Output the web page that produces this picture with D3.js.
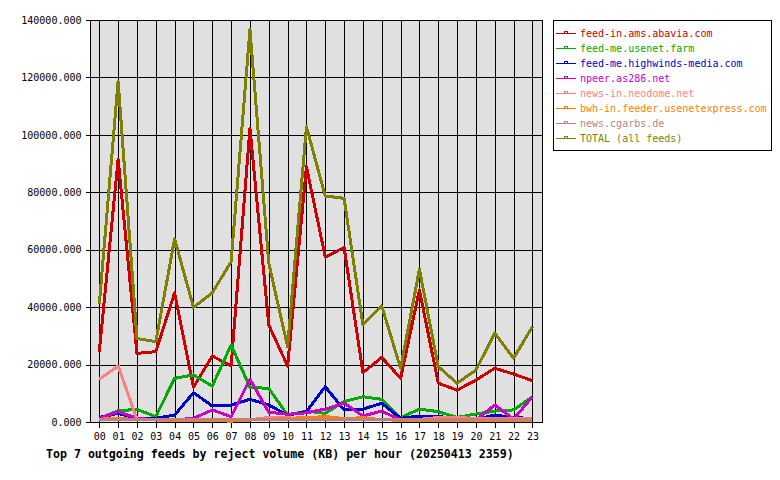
<!DOCTYPE html>
<html>
<head>
<meta charset="utf-8">
<script src="https://cdn.jsdelivr.net/npm/d3@7"></script>
<style>
  body { margin: 0; background: #fff; }
  svg { display: block; }
</style>
</head>
<body>
<div id="chart"></div>
<script>
const hours = ["00","01","02","03","04","05","06","07","08","09","10","11",
               "12","13","14","15","16","17","18","19","20","21","22","23"];

const abavia    = [24500, 91500, 23900, 24500, 45000, 12100, 23000, 19500, 102300, 33800, 19500, 88900,
                   57400, 60800, 17200, 22500, 15200, 46000, 13500, 11100, 14600, 18700, 16700, 14400];
const usenetFarm = [1300, 3900, 4400, 1850, 15200, 16400, 12500, 26800, 12100, 11700, 2400, 3800,
                    3000, 7100, 8800, 7900, 1500, 4500, 3600, 1600, 2800, 3800, 4200, 8800];
const highwinds  = [1600, 3000, 1300, 1300, 2400, 10200, 5600, 5900, 7900, 5900, 2400, 3600,
                    12300, 4200, 4500, 6500, 1300, 2100, 1900, 1300, 1000, 2400, 1600, 1200];
const npeer      = [1300, 3600, 1300, 700, 700, 1300, 4200, 1850, 14900, 3400, 2700, 3200,
                    4500, 6500, 2100, 3800, 700, 700, 1000, 1000, 700, 5900, 1000, 8800];
const neodome    = [14900, 19500, 900, 700, 600, 600, 600, 500, 800, 1600, 1500, 900,
                    800, 700, 700, 700, 700, 900, 1600, 1600, 1200, 1200, 1200, 1200];
const usenetexpress = [1000, 1200, 900, 800, 600, 500, 500, 300, 700, 900, 1300, 1500,
                       1900, 1200, 1500, 800, 600, 600, 600, 600, 600, 600, 600, 600];
const cgarbs     = [900, 900, 900, 900, 900, 900, 900, 900, 900, 900, 900, 900,
                    900, 900, 900, 900, 900, 900, 900, 900, 900, 900, 900, 900];
const total      = [41000, 118700, 29100, 28000, 63800, 39900, 45000, 55800, 136700, 55300, 26200, 102800,
                    78700, 77900, 33800, 40400, 18700, 53200, 19300, 13500, 18100, 30900, 22200, 33200];

const yTicks = [0, 20000, 40000, 60000, 80000, 100000, 120000, 140000];

const series = [
  {name: "feed-in.ams.abavia.com", color: "#cc0000", values: abavia},
  {name: "feed-me.usenet.farm", color: "#00aa00", values: usenetFarm},
  {name: "feed-me.highwinds-media.com", color: "#0000cc", values: highwinds},
  {name: "npeer.as286.net", color: "#cc00cc", values: npeer},
  {name: "news-in.neodome.net", color: "#ff8080", values: neodome},
  {name: "bwh-in.feeder.usenetexpress.com", color: "#ff8000", values: usenetexpress},
  {name: "news.cgarbs.de", color: "#c08080", values: cgarbs},
  {name: "TOTAL (all feeds)", color: "#808000", values: total}
];

const width = 780, height = 480;
const plot = {left: 90, right: 542, top: 20, bottom: 422};
const font = "'DejaVu Sans Mono', monospace";

const svg = d3.select("#chart").append("svg")
  .attr("width", width)
  .attr("height", height)
  .style("font-family", font);

const x = d3.scalePoint().domain(hours).range([99.3, 532.4]);
const y = d3.scaleLinear().domain([0, 140000]).range([plot.bottom, plot.top]);

// plot background
svg.append("rect")
  .attr("x", plot.left).attr("y", plot.top)
  .attr("width", plot.right - plot.left).attr("height", plot.bottom - plot.top)
  .attr("fill", "#e0e0e0");

// grid
const grid = svg.append("g").attr("stroke", "#000").attr("stroke-width", 1).attr("shape-rendering", "crispEdges");
grid.selectAll("line.v").data(hours).join("line")
  .attr("class", "v")
  .attr("x1", d => Math.round(x(d)) + 0.5).attr("x2", d => Math.round(x(d)) + 0.5)
  .attr("y1", plot.top).attr("y2", plot.bottom);
grid.selectAll("line.h").data(yTicks).join("line")
  .attr("class", "h")
  .attr("x1", plot.left).attr("x2", plot.right)
  .attr("y1", d => Math.round(y(d)) + 0.5).attr("y2", d => Math.round(y(d)) + 0.5);

// axes
const yAxis = svg.append("g")
  .attr("transform", `translate(${plot.left + 0.5},0)`)
  .call(d3.axisLeft(y).tickValues(yTicks).tickSize(5).tickSizeOuter(0).tickFormat(d3.format(".3f")));
const xAxis = svg.append("g")
  .attr("transform", `translate(0,${plot.bottom + 0.5})`)
  .call(d3.axisBottom(x).tickSize(5).tickSizeOuter(0));
[yAxis, xAxis].forEach(a => {
  a.select(".domain").remove();
  a.selectAll("line").attr("stroke", "#000").attr("shape-rendering", "crispEdges");
  a.selectAll("text").attr("fill", "#000").style("font-family", font).style("font-size", "10px");
});
yAxis.selectAll("text").attr("x", -9);
xAxis.selectAll("text").attr("y", 10);

// plot border
svg.append("rect")
  .attr("x", plot.left + 0.5).attr("y", plot.top + 0.5)
  .attr("width", plot.right - plot.left).attr("height", plot.bottom - plot.top)
  .attr("fill", "none").attr("stroke", "#000").attr("shape-rendering", "crispEdges");

// lines
const line = d3.line().x((d, i) => x(hours[i])).y(d => y(d));
svg.append("g").selectAll("path")
  .data(series)
  .join("path")
  .attr("d", d => line(d.values))
  .attr("fill", "none")
  .attr("stroke", d => d.color)
  .attr("stroke-width", 3)
  .attr("stroke-linejoin", "round")
  .attr("shape-rendering", "crispEdges");

// legend
const legend = svg.append("g").attr("transform", "translate(553,20)");
legend.append("rect")
  .attr("x", 0.5).attr("y", 0.5).attr("width", 218).attr("height", 130)
  .attr("fill", "#fff").attr("stroke", "#000").attr("shape-rendering", "crispEdges");
const item = legend.selectAll("g.item").data(series).join("g")
  .attr("class", "item")
  .attr("transform", (d, i) => `translate(0,${13 + i * 15})`);
item.append("line")
  .attr("x1", 3).attr("x2", 23).attr("y1", 0.5).attr("y2", 0.5)
  .attr("stroke", d => d.color).attr("shape-rendering", "crispEdges");
item.append("rect")
  .attr("x", 11.5).attr("y", -1.5).attr("width", 3).attr("height", 2)
  .attr("fill", "none").attr("stroke", d => d.color).attr("shape-rendering", "crispEdges");
item.append("text")
  .attr("x", 27).attr("y", 4)
  .attr("fill", d => d.color)
  .style("font-size", "10px")
  .text(d => d.name);

// title
svg.append("text")
  .attr("x", 46).attr("y", 458)
  .style("font-size", "11.6px")
  .style("font-weight", "bold")
  .attr("fill", "#000")
  .text("Top 7 outgoing feeds by reject volume (KB) per hour (20250413 2359)");
</script>
</body>
</html>
